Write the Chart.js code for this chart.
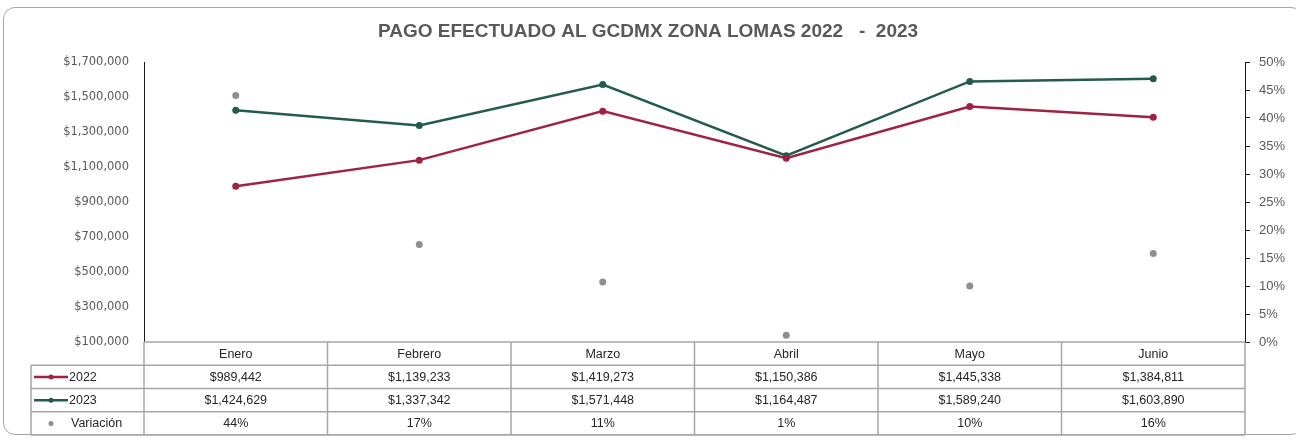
<!DOCTYPE html>
<html>
<head>
<meta charset="utf-8">
<script src="https://cdn.jsdelivr.net/npm/chart.js@4/dist/chart.umd.min.js"></script>
<style>
  html, body { margin: 0; padding: 0; background: #fff; overflow: hidden; }
  #wrap { position: relative; width: 1296px; height: 440px; overflow: hidden; }
  #frame { position: absolute; left: 3px; top: 7px; width: 1300px; height: 428px;
           border: 1px solid #a6a6a6; border-radius: 12px; box-sizing: border-box; }
  canvas { position: absolute; left: 0; top: 0; }
</style>
</head>
<body>
<div id="wrap">
  <div id="frame"></div>
  <canvas id="c" width="1296" height="440"></canvas>
</div>
<script>
const title = "PAGO EFECTUADO AL GCDMX ZONA LOMAS 2022   -  2023";
const months = ["Enero", "Febrero", "Marzo", "Abril", "Mayo", "Junio"];
const pago2022 = [989442, 1139233, 1419273, 1150386, 1445338, 1384811];
const pago2023 = [1424629, 1337342, 1571448, 1164487, 1589240, 1603890];
const variacion = [0.44, 0.174, 0.107, 0.012, 0.10, 0.158];
const seriesNames = ["2022", "2023", "Variación"];

const C22 = "#9F2241", C23 = "#235B4E", CV = "#8f8f8f";
const money = v => "$" + Math.round(v).toLocaleString("en-US");
const pct = v => Math.round(v * 100) + "%";

const tablePlugin = {
  id: "dataTable",
  afterDraw(chart) {
    const ctx = chart.ctx, xs = chart.scales.x, ca = chart.chartArea;
    const n = months.length;
    const colW = (ca.right - ca.left) / n;
    const top = ca.bottom, bottom = xs.bottom;
    const rowH = (bottom - top) / 4;
    const legL = 31;
    ctx.save();
    ctx.strokeStyle = "#a6a6a6";
    ctx.lineWidth = 1.5;
    ctx.beginPath();
    ctx.moveTo(ca.left, top); ctx.lineTo(ca.right, top);
    for (let r = 1; r <= 4; r++) {
      const y = top + r * rowH;
      ctx.moveTo(legL, y); ctx.lineTo(ca.right, y);
    }
    for (let i = 0; i <= n; i++) {
      const x = ca.left + i * colW;
      ctx.moveTo(x, top); ctx.lineTo(x, bottom);
    }
    ctx.moveTo(legL, top + rowH); ctx.lineTo(legL, bottom);
    ctx.stroke();

    ctx.fillStyle = "#262626";
    ctx.font = "12.5px 'Liberation Sans', Arial, sans-serif";
    ctx.textAlign = "center";
    ctx.textBaseline = "middle";
    const rows = [pago2022.map(money), pago2023.map(money), variacion.map(pct)];
    rows.forEach((vals, r) => {
      const y = top + (r + 1.5) * rowH;
      vals.forEach((t, i) => ctx.fillText(t, xs.getPixelForValue(i), y + 0.5));
    });

    const colors = [C22, C23, CV];
    ctx.textAlign = "left";
    colors.forEach((col, r) => {
      const y = top + (r + 1.5) * rowH;
      if (r < 2) {
        ctx.strokeStyle = col; ctx.lineWidth = 2.5;
        ctx.beginPath(); ctx.moveTo(34, y); ctx.lineTo(68, y); ctx.stroke();
      }
      ctx.fillStyle = col;
      ctx.beginPath(); ctx.arc(51, y, 2.5, 0, Math.PI * 2); ctx.fill();
      ctx.fillStyle = "#262626";
      ctx.fillText(seriesNames[r], r < 2 ? 69 : 71, y + 0.5);
    });
    ctx.restore();
  }
};

new Chart(document.getElementById("c"), {
  type: "line",
  data: {
    labels: months,
    datasets: [
      { label: seriesNames[0], data: pago2022, borderColor: C22, backgroundColor: C22,
        borderWidth: 2.5, pointRadius: 3.5, pointBorderWidth: 0, yAxisID: "y", tension: 0 },
      { label: seriesNames[1], data: pago2023, borderColor: C23, backgroundColor: C23,
        borderWidth: 2.5, pointRadius: 3.5, pointBorderWidth: 0, yAxisID: "y", tension: 0 },
      { label: seriesNames[2], data: variacion, borderColor: CV, backgroundColor: CV,
        showLine: false, pointRadius: 3.5, pointBorderWidth: 0, yAxisID: "y1" }
    ]
  },
  options: {
    responsive: false,
    devicePixelRatio: 1,
    animation: false,
    layout: { padding: { left: 0, right: 0, top: 0, bottom: 5 } },
    plugins: {
      legend: { display: false },
      tooltip: { enabled: false },
      title: {
        display: true, text: title, color: "#595959",
        font: { family: "'Liberation Sans', Arial, sans-serif", size: 19, weight: "bold", lineHeight: 1.2 },
        padding: { top: 20, bottom: 19.2 }
      }
    },
    scales: {
      x: {
        type: "category",
        offset: true,
        grid: { display: false, offset: true },
        border: { display: false },
        ticks: { color: "#262626", padding: -3, maxRotation: 0,
                 font: { family: "'Liberation Sans', Arial, sans-serif", size: 12.5 } },
        afterFit(s) { s.height = 93; }
      },
      y: {
        position: "left",
        min: 100000, max: 1700000,
        grid: { display: false, drawTicks: false },
        border: { display: true, color: "#1a1a1a", width: 1 },
        ticks: { stepSize: 200000, color: "#595959", padding: 15,
                 font: { family: "'DejaVu Sans', sans-serif", size: 11.5 },
                 callback: v => money(v) },
        afterFit(s) { s.width = 144; }
      },
      y1: {
        position: "right",
        min: 0, max: 0.5,
        grid: { display: true, drawOnChartArea: false, drawTicks: true, tickLength: 5, color: "#1a1a1a" },
        border: { display: true, color: "#1a1a1a", width: 1 },
        ticks: { stepSize: 0.05, color: "#595959", padding: 9,
                 font: { family: "'Liberation Sans', Arial, sans-serif", size: 13 },
                 callback: v => pct(v) },
        afterFit(s) { s.width = 51; }
      }
    }
  },
  plugins: [tablePlugin]
});
</script>
</body>
</html>
